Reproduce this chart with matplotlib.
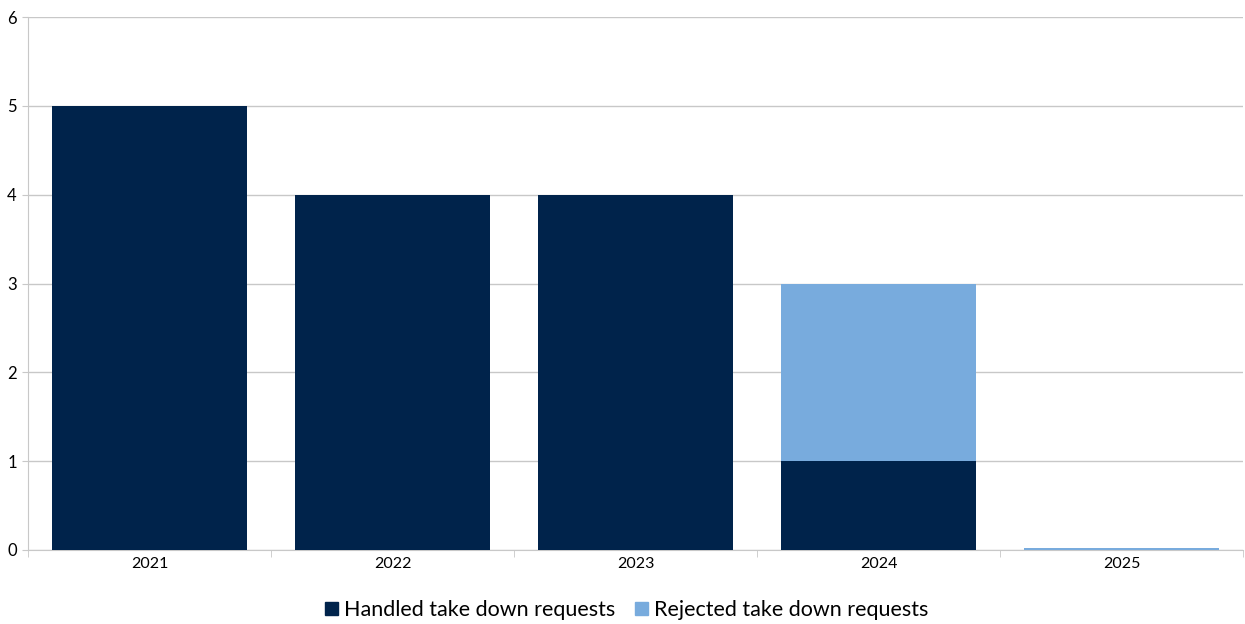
import matplotlib
matplotlib.use("Agg")
from matplotlib import pyplot as plt
from matplotlib.patches import Patch
import numpy as np

years = ["2021", "2022", "2023", "2024", "2025"]
handled = [5, 4, 4, 1, 0]
rejected = [0, 0, 0, 2, 0.02]

navy = "#00234B"
light = "#78ABDD"
grid_col = "#c8c8c8"

plt.rcParams['font.family'] = ['Lato', 'DejaVu Sans']

fig = plt.figure(figsize=(12.45, 6.24), dpi=100)
ax = fig.add_axes([28 / 1245, 74 / 624, 1215 / 1245, 533 / 624])

x = np.arange(len(years))
ax.bar(x, handled, width=0.8, color=navy, zorder=3)
ax.bar(x, rejected, width=0.8, bottom=handled, color=light, zorder=3)

ax.set_xlim(-0.5, len(years) - 0.5)
ax.set_ylim(0, 6)
ax.set_yticks(range(0, 7))
ax.yaxis.grid(True, color=grid_col, linewidth=1, zorder=0)

# category labels centred, tick marks on boundaries
ax.set_xticks(x)
ax.set_xticklabels(years, fontsize=11.5)
ax.tick_params(axis='x', length=0, pad=5)
ax.set_xticks(np.arange(-0.5, len(years)), minor=True)
ax.tick_params(axis='x', which='minor', length=5, color=grid_col)
ax.tick_params(axis='y', length=4, color=grid_col, labelsize=12, pad=4)

for s in ['top', 'right']:
    ax.spines[s].set_visible(False)
ax.spines['left'].set_color(grid_col)
ax.spines['bottom'].set_color(grid_col)

handles = [Patch(color=navy, label="Handled take down requests"),
           Patch(color=light, label="Rejected take down requests")]
fig.legend(handles=handles, loc='center', bbox_to_anchor=(627 / 1245, 1 - 610 / 624),
           ncol=2, frameon=False, fontsize=15.5, handlelength=0.6, handleheight=0.6,
           handletextpad=0.3, columnspacing=0.9)

fig.savefig("out.png", dpi=100)
